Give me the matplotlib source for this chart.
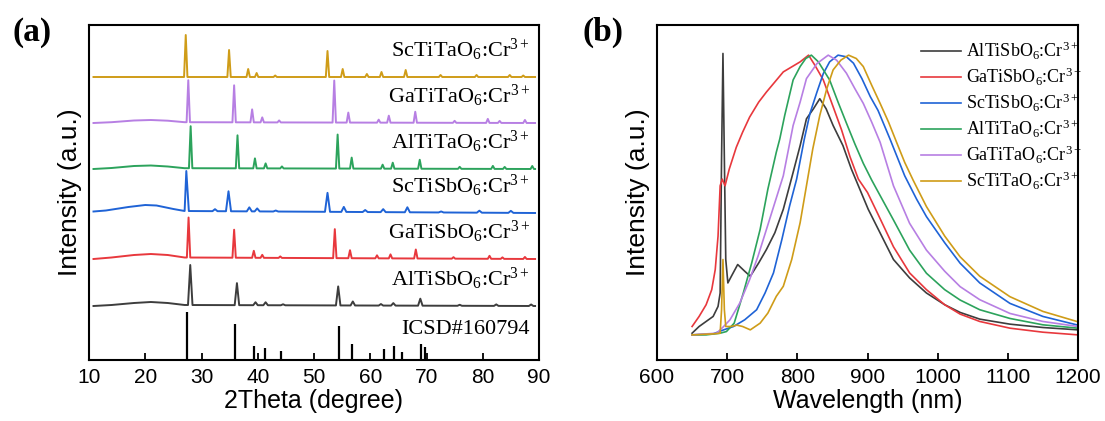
import numpy as np
import matplotlib
matplotlib.use("Agg")
import matplotlib.pyplot as plt

plt.rcParams['mathtext.fontset'] = 'custom'
plt.rcParams['mathtext.rm'] = 'Liberation Serif'
plt.rcParams['mathtext.it'] = 'Liberation Serif:italic'
plt.rcParams['mathtext.bf'] = 'Liberation Serif:bold'

# ---------------- XRD data (panel a) ----------------
xrd_names = ["AlTiSbO$_6$:Cr$^{3+}$", "GaTiSbO$_6$:Cr$^{3+}$", "ScTiSbO$_6$:Cr$^{3+}$",
             "AlTiTaO$_6$:Cr$^{3+}$", "GaTiTaO$_6$:Cr$^{3+}$", "ScTiTaO$_6$:Cr$^{3+}$"]
xrd_colors = ["#3d3d3d", "#e8383d", "#1f63d6", "#2ca35c", "#b77fe3", "#cf9c18"]
xrd_offsets = [54, 101, 147, 191, 237, 283]

alsb_pos = [28.0, 36.3, 39.6, 41.4, 44.5, 54.3, 56.9, 61.9, 64.1, 68.9, 75.9, 82.4, 88.6]
alsb_h = [40, 22, 3, 3, 1, 19, 4, 1.5, 2.5, 7, 1, 1.5, 1.5]
alsb_hx = [10.8, 14, 18, 21, 24, 27, 89.3]
alsb_hy = [0, 1, 3, 4, 3, 1, 0]

gasb_pos = [27.7, 35.8, 39.3, 40.8, 44.0, 53.7, 56.4, 61.2, 63.6, 68.1, 74.8, 81.2, 83.5, 87.5]
gasb_h = [40, 28, 7, 3, 1.5, 29, 8, 3, 4, 9, 1.5, 3, 1.5, 2]
gasb_hx = [10.8, 14, 18, 21, 24, 27, 89.3]
gasb_hy = [0, 1.5, 4, 5, 4, 1.5, 0]

scsb_pos = [27.3, 32.4, 34.8, 38.5, 39.9, 43.2, 52.4, 55.3, 59.1, 62.3, 66.6, 72.6, 79.4, 85.0]
scsb_h = [40, 2, 20, 4, 3, 1, 19, 5, 2, 3, 5, 1, 2, 2]
scsb_hx = [10.8, 13, 17, 20, 22, 25, 27, 89.3]
scsb_hy = [1.5, 2.5, 6, 8, 7.5, 4, 2, 0]

alta_pos = [28.07, 36.4, 39.5, 41.4, 44.3, 54.2, 56.7, 62.2, 64.0, 68.8, 75.9, 81.8, 83.9, 88.8]
alta_h = [42, 33, 10, 5, 2, 34, 11, 4, 6, 9, 2, 3, 2, 3]
alta_hx = [10.8, 14, 18, 21, 24, 27, 89.3]
alta_hy = [0, 1, 3, 3.5, 2.5, 0.8, 0]

gata_pos = [27.65, 35.8, 39.0, 40.8, 43.8, 53.6, 56.1, 61.5, 63.3, 68.0, 75.0, 80.9, 83.0, 87.5]
gata_h = [42, 37, 13, 5, 2, 42, 10, 3, 7, 11, 2, 4, 2, 3]
gata_hx = [10.8, 14, 18, 21, 24, 27, 89.3]
gata_hy = [0, 0.8, 2.5, 3, 2.3, 0.8, 0]

scta_pos = [27.2, 34.9, 38.3, 39.8, 43.1, 52.4, 55.1, 59.4, 62.0, 66.3, 72.5, 78.9, 84.8, 87.2]
scta_h = [42, 27, 8, 4, 1.5, 26, 8, 3, 5, 7, 2, 2, 2, 1.5]
scta_hx = [10.8, 89.3]
scta_hy = [0, 0]

xrd_peak_pos = [alsb_pos, gasb_pos, scsb_pos, alta_pos, gata_pos, scta_pos]
xrd_peak_h = [alsb_h, gasb_h, scsb_h, alta_h, gata_h, scta_h]
xrd_hump_x = [alsb_hx, gasb_hx, scsb_hx, alta_hx, gata_hx, scta_hx]
xrd_hump_y = [alsb_hy, gasb_hy, scsb_hy, alta_hy, gata_hy, scta_hy]
xrd_halfwidth = [0.4, 0.3, 0.45, 0.3, 0.3, 0.3]

icsd_pos = [27.5, 36.0, 39.3, 41.3, 44.2, 54.4, 56.8, 62.5, 64.2, 65.6, 69.1, 69.7]
icsd_h = [48, 36, 14, 12, 9, 34, 16, 11, 14, 8, 16, 13]
icsd_label = "ICSD#160794"

# ---------------- PL data (panel b) ----------------
pl_names = ["AlTiSbO$_6$:Cr$^{3+}$", "GaTiSbO$_6$:Cr$^{3+}$", "ScTiSbO$_6$:Cr$^{3+}$",
            "AlTiTaO$_6$:Cr$^{3+}$", "GaTiTaO$_6$:Cr$^{3+}$", "ScTiTaO$_6$:Cr$^{3+}$"]

alsb_wl = [650, 660, 670, 680, 687, 690, 692, 694, 696, 698, 701, 706, 715, 725, 733, 745, 756, 768,
           780, 794, 804, 813, 823, 832, 841, 851, 865, 877, 889, 901, 913, 937, 960, 984, 1010, 1032,
           1060, 1103, 1150, 1200]
alsb_I = [.08, .10, .115, .13, .16, .20, .60, .915, .60, .30, .23, .25, .285, .265, .25, .29, .33, .38,
          .45, .56, .64, .72, .75, .78, .75, .70, .64, .57, .51, .45, .40, .30, .245, .20, .165, .142,
          .122, .107, .097, .09]

gasb_wl = [650, 660, 670, 678, 683, 687, 690, 693, 697, 703, 713, 722, 732, 745, 756, 768, 780, 792,
           804, 816, 825, 837, 851, 863, 875, 887, 900, 915, 937, 960, 984, 1010, 1032, 1060, 1103,
           1150, 1200]
gasb_I = [.10, .13, .165, .21, .27, .37, .52, .54, .52, .57, .635, .68, .725, .77, .80, .83, .86, .875,
          .89, .91, .88, .836, .756, .687, .607, .54, .50, .435, .338, .26, .21, .165, .137, .115, .095,
          .083, .075]

scsb_wl = [650, 680, 695, 709, 725, 742, 754, 766, 778, 789, 799, 810, 818, 828, 837, 846, 858, 870,
           880, 892, 904, 915, 932, 953, 970, 984, 1010, 1032, 1060, 1103, 1150, 1200]
scsb_I = [.075, .078, .09, .10, .12, .15, .20, .26, .36, .46, .54, .66, .736, .80, .855, .89, .91, .905,
          .886, .84, .786, .745, .66, .55, .48, .428, .35, .289, .23, .169, .13, .104]

alta_wl = [650, 670, 690, 699, 710, 723, 735, 747, 758, 770, 775, 782, 794, 804, 812, 820, 830, 846,
           858, 870, 882, 894, 906, 913, 937, 960, 984, 1010, 1032, 1060, 1103, 1150, 1200]
alta_I = [.075, .075, .08, .085, .11, .20, .29, .39, .51, .62, .66, .73, .836, .876, .90, .91, .89, .836,
          .77, .707, .645, .587, .537, .51, .418, .328, .259, .21, .179, .15, .124, .105, .095]

gata_wl = [650, 670, 685, 695, 704, 718, 732, 744, 756, 768, 780, 794, 804, 813, 828, 844, 856, 870,
           882, 894, 906, 918, 937, 960, 984, 1010, 1032, 1060, 1103, 1150, 1200]
gata_I = [.075, .078, .08, .10, .12, .17, .24, .31, .39, .47, .55, .70, .77, .84, .885, .91, .895, .856,
          .81, .766, .71, .65, .52, .408, .328, .265, .219, .18, .139, .115, .10]

scta_wl = [650, 680, 690, 692, 694, 696, 698, 705, 714, 722, 733, 747, 758, 770, 780, 792, 804, 813,
           822, 832, 842, 851, 862, 873, 884, 894, 906, 918, 930, 942, 953, 965, 984, 1010, 1032, 1060,
           1103, 1150, 1200]
scta_I = [.075, .078, .08, .15, .30, .15, .10, .10, .104, .10, .09, .11, .14, .19, .22, .30, .41, .52,
          .63, .73, .81, .866, .895, .91, .90, .876, .82, .766, .71, .647, .59, .537, .458, .37, .308,
          .25, .189, .145, .114]

pl_wl = [alsb_wl, gasb_wl, scsb_wl, alta_wl, gata_wl, scta_wl]
pl_I = [alsb_I, gasb_I, scsb_I, alta_I, gata_I, scta_I]
pl_colors = ["#3d3d3d", "#e8383d", "#1f63d6", "#2ca35c", "#b77fe3", "#cf9c18"]

# ---------------- figure ----------------
fig = plt.figure(figsize=(11.05, 4.21), dpi=100)
W, H = 1105, 421
axA = fig.add_axes([89 / W, 1 - 360 / H, (539 - 89) / W, (360 - 25) / H])
axB = fig.add_axes([657 / W, 1 - 360 / H, (1078 - 657) / W, (360 - 25) / H])

serif = 'Liberation Serif'
sans = 'Liberation Sans'

# panel a
for i in range(6):
    pos = xrd_peak_pos[i]
    hts = xrd_peak_h[i]
    hw = xrd_halfwidth[i]
    xs = list(xrd_hump_x[i])
    for p in pos:
        xs += [p - hw, p, p + hw]
    xs = np.array(sorted(set(xs)))
    ys = np.interp(xs, xrd_hump_x[i], xrd_hump_y[i])
    for p, h in zip(pos, hts):
        ys[np.isclose(xs, p)] += h
    axA.plot(xs, ys + xrd_offsets[i], color=xrd_colors[i], lw=1.4)
    axA.text(88.4, xrd_offsets[i] + 27, xrd_names[i], ha='right', va='center',
             fontsize=16, family=serif)

axA.vlines(icsd_pos, 0, icsd_h, color='black', lw=1.6)
axA.text(88.4, 30, icsd_label, ha='right', va='center', fontsize=16, family=serif)

axA.set_xlim(10, 90)
axA.set_ylim(0, 335)
axA.set_xticks(range(10, 91, 10))
axA.set_yticks([])
axA.set_xlabel("2Theta (degree)", fontsize=18, family=sans, labelpad=1)
axA.set_ylabel("Intensity (a.u.)", fontsize=19, family=sans, labelpad=5)

# panel b
for i in range(6):
    axB.plot(pl_wl[i], pl_I[i], color=pl_colors[i], lw=1.2, label=pl_names[i])
axB.set_xlim(600, 1200)
axB.set_ylim(0, 1)
axB.set_xticks(range(600, 1201, 100))
axB.set_yticks([])
axB.set_xlabel("Wavelength (nm)", fontsize=18, family=sans, labelpad=1)
axB.set_ylabel("Intensity (a.u.)", fontsize=19, family=sans, labelpad=5)
leg = axB.legend(loc='upper left', bbox_to_anchor=(912 / W, 1 - 31 / H),
                 bbox_transform=fig.transFigure, frameon=False,
                 handlelength=2.2, handletextpad=0.3, labelspacing=0.22, borderpad=0,
                 prop={'family': serif, 'size': 13})

for ax in (axA, axB):
    for s in ax.spines.values():
        s.set_linewidth(1.5)
    ax.tick_params(axis='x', direction='in', length=5, width=1.3, labelsize=15, pad=6)
    for lab in ax.get_xticklabels():
        lab.set_family(sans)

fig.text(13 / W, 1 - 32 / H, "(a)", fontsize=24, fontweight='bold', family=serif, va='center')
fig.text(582 / W, 1 - 32 / H, "(b)", fontsize=24, fontweight='bold', family=serif, va='center')

fig.savefig("out.png", dpi=100)
